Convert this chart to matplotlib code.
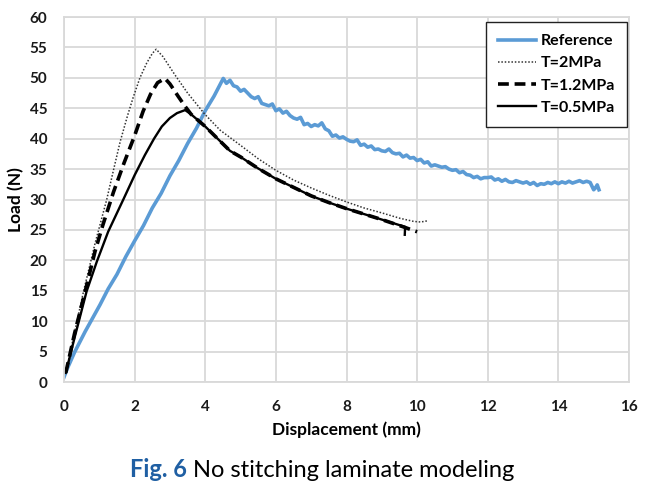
import matplotlib.pyplot as plt

plt.rcParams['font.family'] = ['Lato', 'DejaVu Sans']

# Reference (experiment), blue noisy curve
ref_x = [0.0, 0.1, 0.3, 0.6, 0.85, 1.02, 1.25, 1.5, 1.75, 2.0, 2.25, 2.5, 2.75, 3.0, 3.25,
         3.5, 3.75, 4.0, 4.25, 4.51,
         4.6, 4.7, 4.8, 4.9, 5.0, 5.1, 5.2, 5.3, 5.4, 5.5, 5.6, 5.7, 5.8, 5.9,
         6.0, 6.1, 6.2, 6.3, 6.4, 6.5, 6.6, 6.7, 6.8, 6.9,
         7.0, 7.1, 7.2, 7.3, 7.4, 7.5, 7.6, 7.7, 7.8, 7.9,
         8.0, 8.1, 8.2, 8.3, 8.4, 8.5, 8.6, 8.7, 8.8, 8.9,
         9.0, 9.1, 9.2, 9.3, 9.4, 9.5, 9.6, 9.7, 9.8, 9.9,
         10.0, 10.1, 10.2, 10.3, 10.4, 10.5, 10.6, 10.7, 10.8, 10.9,
         11.0, 11.1, 11.2, 11.3, 11.4, 11.5, 11.6, 11.7, 11.8, 11.9,
         12.0, 12.1, 12.2, 12.3, 12.4, 12.5, 12.6, 12.7, 12.8, 12.9,
         13.0, 13.1, 13.2, 13.3, 13.4, 13.5, 13.6, 13.7, 13.8, 13.9,
         14.0, 14.1, 14.2, 14.3, 14.4, 14.5, 14.6, 14.7, 14.8, 14.9,
         15.0, 15.05, 15.1, 15.15]
ref_y = [0.8, 2.3, 4.9, 8.3, 10.9, 12.7, 15.3, 17.7, 20.6, 23.2, 25.7, 28.6, 31.0, 33.9, 36.4,
         39.2, 41.7, 44.6, 47.0, 49.9,
         49.1, 49.6, 48.7, 48.5, 47.8, 48.1, 47.5, 46.9, 46.6, 46.9, 45.8, 45.6, 45.4, 45.7,
         44.6, 44.9, 44.2, 44.5, 43.8, 43.4, 43.2, 43.5, 42.3, 42.5,
         42.0, 42.3, 42.1, 42.6, 41.6, 41.3, 40.4, 40.6, 40.1, 40.3,
         39.9, 39.6, 39.5, 39.8, 38.9, 39.1, 38.6, 38.8, 38.2, 38.3,
         38.0, 37.9, 38.3, 37.7, 37.5, 37.6, 37.0, 37.3, 36.8, 36.9,
         36.4, 36.6, 36.0, 36.2, 35.5, 35.7, 35.5, 35.3, 35.4, 35.0,
         34.8, 34.9, 34.4, 34.6, 34.1, 34.0, 33.6, 33.8, 33.4, 33.6,
         33.6, 33.7, 33.2, 33.4, 33.0, 33.3, 32.9, 32.8, 33.1, 32.9,
         32.7, 32.9, 32.5, 32.8, 32.3, 32.6, 32.5, 32.8, 32.6, 32.9,
         32.6, 32.9, 32.7, 33.0, 32.7, 32.9, 33.1, 32.8, 33.0, 32.8,
         31.6, 31.9, 32.4, 31.6]

# T=2MPa, dotted
t2_x = [0.05, 0.3, 0.55, 0.88, 1.21, 1.4, 1.59, 1.8, 1.96, 2.15, 2.34, 2.5, 2.61,
        2.8, 3.14, 3.5, 3.99, 4.42, 5.0, 5.5, 6.0, 6.5, 7.0, 7.5, 8.0, 8.5, 9.0, 9.52,
        9.9, 10.1, 10.3]
t2_y = [1.5, 8.2, 14.8, 22.8, 30.0, 34.8, 39.5, 43.8, 46.8, 50.0, 52.4, 54.0, 54.7,
        53.5, 50.5, 47.5, 44.0, 41.4, 38.9, 36.7, 34.8, 33.2, 31.9, 30.7, 29.6, 28.6, 27.8, 26.9,
        26.4, 26.3, 26.5]

# T=1.2MPa, dashed
t12_x = [0.05, 0.3, 0.6, 0.88, 1.1, 1.4, 1.7, 2.0, 2.24, 2.45, 2.65, 2.86,
         3.0, 3.24, 3.43, 3.6, 4.0, 4.7, 5.0, 5.5, 6.0, 6.5, 7.0, 7.5, 8.0, 8.5, 9.0,
         9.66, 9.85, 10.0]
t12_y = [1.5, 8.0, 14.9, 21.5, 25.8, 31.2, 36.0, 40.5, 44.5, 47.3, 49.2, 49.9,
         49.0, 46.9, 45.3, 44.0, 42.0, 38.0, 37.0, 35.1, 33.4, 32.0, 30.6, 29.5, 28.5, 27.6, 26.7,
         25.4, 25.0, 24.7]

# T=0.5MPa, solid
t05_x = [0.05, 0.3, 0.64, 0.93, 1.25, 1.68, 2.0, 2.29, 2.55, 2.77, 3.0, 3.2, 3.43, 3.6,
         4.0, 4.7, 5.0, 5.5, 6.0, 6.5, 7.0, 7.5, 8.0, 8.5, 9.0, 9.66, 9.65]
t05_y = [1.5, 7.3, 14.9, 19.8, 24.7, 30.0, 34.0, 37.3, 40.0, 42.0, 43.4, 44.2, 44.7, 44.0,
         42.0, 38.0, 37.0, 35.1, 33.4, 32.0, 30.6, 29.5, 28.5, 27.6, 26.7, 25.5, 24.2]

x_ticks = list(range(0, 17, 2))
y_ticks = list(range(0, 61, 5))

fig = plt.figure(figsize=(6.58, 4.86), dpi=100)
ax = fig.add_axes([64 / 658, 1 - 382 / 486, 565 / 658, 365 / 486])

ax.plot(ref_x, ref_y, color='#5b9bd5', lw=2.6, label='Reference')
ax.plot(t2_x, t2_y, color='#333333', lw=1.1, ls=(0, (1, 1.2)), label='T=2MPa')
ax.plot(t12_x, t12_y, color='black', lw=2.6, ls=(0, (3, 1.6)), label='T=1.2MPa')
ax.plot(t05_x, t05_y, color='black', lw=1.7, label='T=0.5MPa')

ax.set_xlim(0, 16)
ax.set_ylim(0, 60)
ax.set_xticks(x_ticks)
ax.set_yticks(y_ticks)
ax.grid(True, color='#d9d9d9', lw=1.3)
ax.set_axisbelow(True)
for s in ax.spines.values():
    s.set_color('#d9d9d9')
    s.set_linewidth(1.3)
ax.tick_params(length=0, labelsize=11, colors='#1a1a1a')
ax.tick_params(axis='x', pad=13)
ax.tick_params(axis='y', pad=12)
for lab in ax.get_xticklabels() + ax.get_yticklabels():
    lab.set_fontweight('bold')

ax.set_xlabel('Displacement (mm)', fontsize=12.5, fontweight='bold', labelpad=5)
ax.set_ylabel('Load (N)', fontsize=12.5, fontweight='bold', labelpad=4)

leg = ax.legend(loc='upper right', bbox_to_anchor=(0.9965, 0.986), fancybox=False,
                edgecolor='#222222', framealpha=1, fontsize=11.5, handlelength=2.4,
                handletextpad=0.3, labelspacing=0.5, borderpad=0.75, borderaxespad=0)
leg.get_frame().set_linewidth(1.0)
for t in leg.get_texts():
    t.set_fontweight('bold')

fig.text(130 / 658, 1 - 477 / 486, 'Fig. 6', fontsize=17, fontweight='bold',
         color='#1f5fa3', va='baseline', ha='left')
fig.text(193 / 658, 1 - 477 / 486, 'No stitching laminate modeling', fontsize=17,
         color='black', va='baseline', ha='left')

fig.savefig('out.png', dpi=100)
